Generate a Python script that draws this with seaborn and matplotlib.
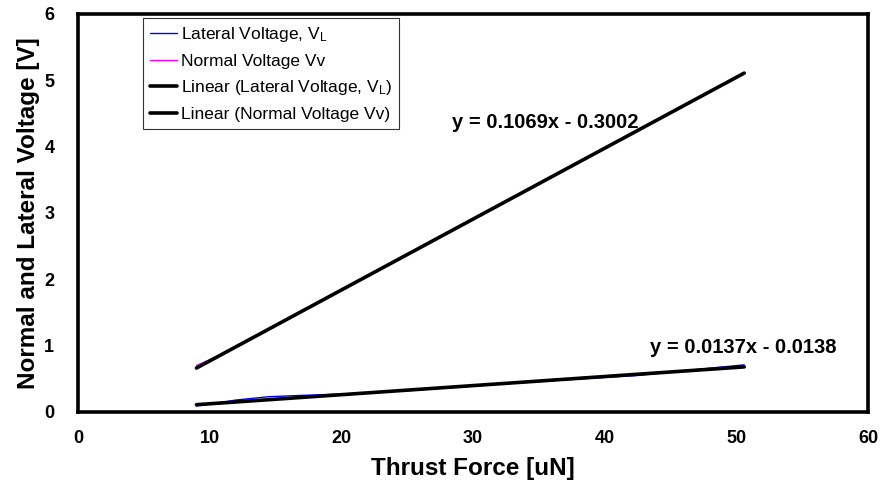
import matplotlib
matplotlib.use("Agg")
import matplotlib.pyplot as plt
import numpy as np
import pandas as pd
import seaborn as sns

# Measured thrust force [uN] and the resulting voltages [V]
thrust_force = [9.0, 10.5, 12.0, 14.5, 17.0, 20.0, 25.0, 30.0, 35.0, 40.0, 42.5, 45.0, 47.5, 50.6]
lateral_voltage = [0.09, 0.13, 0.18, 0.23, 0.25, 0.27, 0.32, 0.39, 0.46, 0.52, 0.55, 0.60, 0.65, 0.71]
normal_voltage = [0.70, 0.83, 0.99, 1.25, 1.52, 1.84, 2.37, 2.91, 3.44, 3.98, 4.24, 4.51, 4.78, 5.11]

# Linear trendline coefficients (slope, intercept)
lateral_fit = (0.0137, -0.0138)
normal_fit = (0.1069, -0.3002)

x_ticks = [0, 10, 20, 30, 40, 50, 60]
y_ticks = [0, 1, 2, 3, 4, 5, 6]

sns.set_theme(style="white")
plt.rcParams["font.family"] = ["Liberation Sans", "DejaVu Sans"]
plt.rcParams["text.color"] = "black"
plt.rcParams["axes.labelcolor"] = "black"
plt.rcParams["mathtext.fontset"] = "custom"
plt.rcParams["mathtext.rm"] = "Liberation Sans"
plt.rcParams["mathtext.it"] = "Liberation Sans"

fig = plt.figure(figsize=(8.82, 4.91), dpi=100)
ax = fig.add_axes([0.0884, 0.161, 0.8957, 0.8105])

df = pd.DataFrame({"x": thrust_force, "lat": lateral_voltage, "nor": normal_voltage})
xs = np.array([thrust_force[0], thrust_force[-1]])
fit_df = pd.DataFrame({
    "x": xs,
    "lat": lateral_fit[0] * xs + lateral_fit[1],
    "nor": normal_fit[0] * xs + normal_fit[1],
})

sns.lineplot(data=df, x="x", y="lat", ax=ax, color="#0000ff", lw=1.0,
             label="Lateral Voltage, V$_{\\mathrm{L}}$")
sns.lineplot(data=df, x="x", y="nor", ax=ax, color="#ff00ff", lw=1.0,
             label="Normal Voltage Vv")
sns.lineplot(data=fit_df, x="x", y="lat", ax=ax, color="black", lw=2.6,
             label="Linear (Lateral Voltage, V$_{\\mathrm{L}}$)")
sns.lineplot(data=fit_df, x="x", y="nor", ax=ax, color="black", lw=2.6,
             label="Linear (Normal Voltage Vv)")

ax.set_xlim(0, 60)
ax.set_ylim(0, 6)
ax.set_xticks(x_ticks)
ax.set_yticks(y_ticks)
ax.tick_params(axis="both", direction="in", length=6, width=2.2,
               labelsize=13, colors="black")
ax.tick_params(axis="x", pad=13)
ax.tick_params(axis="y", pad=17)
for lab in ax.get_xticklabels() + ax.get_yticklabels():
    lab.set_fontweight("bold")

for sp in ax.spines.values():
    sp.set_linewidth(2.6)
    sp.set_color("black")

ax.set_xlabel("Thrust Force [uN]", fontsize=17.5, fontweight="bold", labelpad=7)
ax.set_ylabel("Normal and Lateral Voltage [V]", fontsize=17.5, fontweight="bold", labelpad=3)

ax.text(35.5, 4.37, "y = 0.1069x - 0.3002", fontsize=14.5, fontweight="bold",
        ha="center", va="center")
ax.text(50.5, 0.97, "y = 0.0137x - 0.0138", fontsize=14.5, fontweight="bold",
        ha="center", va="center")

leg = ax.legend(loc="upper left", bbox_to_anchor=(0.082, 0.99), fontsize=12.5,
                frameon=True, fancybox=False, edgecolor="black",
                handlelength=1.6, handletextpad=0.2, labelspacing=0.55,
                borderpad=0.4, borderaxespad=0)
leg.get_frame().set_linewidth(0.8)

fig.savefig("out.png", dpi=100)
